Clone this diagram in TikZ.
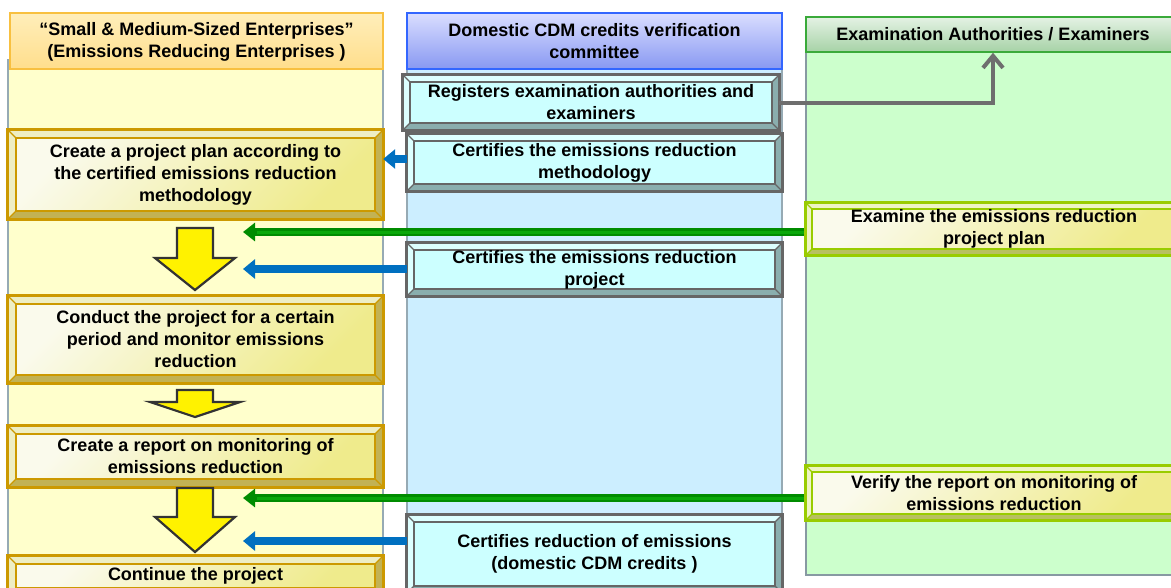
\documentclass[tikz,border=0pt]{standalone}
\usepackage{fontspec}
\setmainfont{Liberation Sans}
\usetikzlibrary{arrows.meta,fit}
\definecolor{lbord}{HTML}{CC9900}
\definecolor{lbevlight}{HTML}{EEEEC4}
\definecolor{lbevdark}{HTML}{C2B254}
\definecolor{linA}{HTML}{FAFAEC}
\definecolor{linB}{HTML}{EFEB8C}
\definecolor{mbord}{HTML}{666666}
\definecolor{mbevlight}{HTML}{DDFFFF}
\definecolor{mbevdark}{HTML}{8AAEAE}
\definecolor{minfill}{HTML}{CCFFFF}
\definecolor{rbord}{HTML}{99CC00}
\definecolor{rbevlight}{HTML}{EEF4C4}
\definecolor{rbevdark}{HTML}{B8C060}
\definecolor{colL}{HTML}{FFFFCC}
\definecolor{colM}{HTML}{CCEEFF}
\definecolor{colR}{HTML}{CCFFCC}
\definecolor{colbord}{HTML}{96AAB4}
\definecolor{garr}{HTML}{008C00}
\definecolor{garrin}{HTML}{0AA80A}
\definecolor{barr}{HTML}{0070C0}
\definecolor{grarr}{HTML}{6E6E6E}
\newcommand\bbox[8]{%
  \node[fit={(#3,-#4)(#5,-#6)}, inner sep=0pt, #2out] (#1) {};
  \fill[#2light] (#1.north west) -- (#1.north east) -- ([shift={(-#8,-#8)}]#1.north east)
     -- ([shift={(#8,-#8)}]#1.north west) -- ([shift={(#8,#8)}]#1.south west) -- (#1.south west) -- cycle;
  \draw[#2line] (#1.north west) -- ([shift={(#8,-#8)}]#1.north west)
     (#1.north east) -- ([shift={(-#8,-#8)}]#1.north east)
     (#1.south west) -- ([shift={(#8,#8)}]#1.south west)
     (#1.south east) -- ([shift={(-#8,#8)}]#1.south east);
  \path[#2in] ([shift={(#8,-#8)}]#1.north west) rectangle ([shift={(-#8,#8)}]#1.south east);
  \draw[#2bd] (#1.north west) rectangle (#1.south east);
  \node[txt] (#1-t) at (#1.center) {#7};
}
\begin{document}
\begin{tikzpicture}[x=1pt,y=1pt,
  txt/.style={font=\bfseries\fontsize{18}{22}\selectfont, align=center, inner sep=0pt, text=black},
  colbody/.style={draw=colbord, line width=2.5, inner sep=0pt},
  Lout/.style={fill=lbevdark}, Llight/.style={fill=lbevlight},
  Lline/.style={draw=lbord, line width=1.2},
  Lin/.style={draw=lbord, line width=1.5, top color=linA, bottom color=linB, shading angle=45},
  Lbd/.style={draw=lbord, line width=3},
  Mout/.style={fill=mbevdark}, Mlight/.style={fill=mbevlight},
  Mline/.style={draw=mbord, line width=1.2},
  Min/.style={draw=mbord, line width=1.8, fill=minfill},
  Mbd/.style={draw=mbord, line width=3},
  Rout/.style={fill=rbevdark}, Rlight/.style={fill=rbevlight},
  Rline/.style={draw=rbord, line width=1.2},
  Rin/.style={draw=rbord, line width=1.5, top color=linA, bottom color=linB, shading angle=45},
  Rbd/.style={draw=rbord, line width=3},
  greenarrow/.style={draw=garr, line width=8, -{Triangle[length=12pt,width=18pt]}},
  greeninner/.style={draw=garrin, line width=3},
  bluearrow/.style={draw=barr, line width=8, -{Triangle[length=12pt,width=19pt]}},
  grayarrow/.style={draw=grarr, line width=4, line join=miter, -{Straight Barb[length=12pt,width=20pt]}},
  downarrow/.style={fill=yellow, draw=black!80, line width=2.2, line join=miter},
]
\clip (0,0) rectangle (1171,-587);
\useasboundingbox (0,0) rectangle (1171,-587);
% column bodies
\node[colbody, fill=colL, fit={(8,-60)(383,-600)}] (colL) {};
\node[colbody, fill=colM, fit={(407,-60)(782,-600)}] (colM) {};
\node[colbody, draw=colbord!90!black, fill=colR, fit={(806,-42)(1182,-575)}] (colR) {};
% headers
\node[fit={(10,-13)(383,-69)}, inner sep=0pt, draw={rgb,255:red,248;green,192;blue,64}, line width=1.5,
      top color={rgb,255:red,255;green,238;blue,186}, bottom color={rgb,255:red,255;green,222;blue,140}] (lhead) {};
\node[txt] (lhead-t) at ([yshift=-1]lhead.center) {“Small \& Medium-Sized Enterprises”\\(Emissions Reducing Enterprises )};
\node[fit={(407,-13)(782,-69)}, inner sep=0pt, draw={rgb,255:red,51;green,102;blue,255}, line width=1.5,
      top color={rgb,255:red,218;green,222;blue,255}, bottom color={rgb,255:red,136;green,152;blue,242}] (mhead) {};
\node[txt] (mhead-t) at (mhead.center) {Domestic CDM credits verification\\committee};
\node[fit={(806,-17)(1180,-52)}, inner sep=0pt, draw={rgb,255:red,58;green,170;blue,58}, line width=1.5,
      top color={rgb,255:red,228;green,242;blue,228}, bottom color={rgb,255:red,166;green,210;blue,166}] (rhead) {};
\node[txt] (rhead-t) at (rhead.center) {Examination Authorities / Examiners};
% boxes
\bbox{plan}{L}{8}{130}{383}{219}{Create a project plan according to\\the certified emissions reduction\\methodology}{8}
\bbox{cond}{L}{8}{296}{383}{383}{Conduct the project for a certain\\period and monitor emissions\\reduction}{8}
\bbox{rep}{L}{8}{426}{383}{487}{Create a report on monitoring of\\emissions reduction}{8}
\bbox{cont}{L}{8}{556}{383}{596}{Continue the project}{8}
\bbox{reg}{M}{403}{75}{779}{130}{Registers examination authorities and\\examiners}{7}
\bbox{meth}{M}{407}{134}{782}{191}{Certifies the emissions reduction\\methodology}{7}
\bbox{proj}{M}{407}{243}{782}{296}{Certifies the emissions reduction\\project}{7}
\bbox{red}{M}{407}{515}{782}{593}{Certifies reduction of emissions\\(domestic CDM credits )}{7}
% arrows
\coordinate (g1) at (243,-232);
\coordinate (b1) at (243,-269);
\coordinate (g2) at (243,-498);
\coordinate (b2) at (243,-541);
\draw[grayarrow] (reg.east) -| (rhead.south);
\draw[bluearrow] (meth.west |- 0,-159) -- (plan.east |- 0,-159);
\draw[greenarrow] (806,-232) -- (g1);
\draw[greeninner] (806,-232) -- ([xshift=14]g1);
\draw[bluearrow] (proj.west |- b1) -- (b1);
\draw[greenarrow] (806,-498) -- (g2);
\draw[greeninner] (806,-498) -- ([xshift=14]g2);
\draw[bluearrow] (red.west |- b2) -- (b2);
\bbox{exam}{R}{806}{203}{1182}{255}{Examine the emissions reduction\\project plan}{6}
\bbox{ver}{R}{806}{466}{1182}{520}{Verify the report on monitoring of\\emissions reduction}{6}
% flow arrows
\draw[downarrow] (177,-228) -- (213,-228) -- (213,-258) -- (235,-258) -- (195,-290) -- (155,-258) -- (177,-258) -- cycle;
\draw[downarrow] (177,-390) -- (213,-390) -- (213,-402) -- (240,-402) -- (195,-417) -- (150,-402) -- (177,-402) -- cycle;
\draw[downarrow] (177,-488) -- (213,-488) -- (213,-517) -- (235,-517) -- (195,-552) -- (155,-517) -- (177,-517) -- cycle;
\end{tikzpicture}
\end{document}
